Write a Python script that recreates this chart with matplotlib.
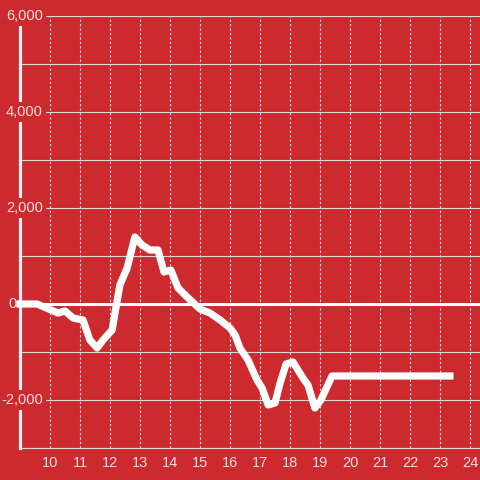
import matplotlib.pyplot as plt
import numpy as np

# hours of the day and running value
hours = [9.0, 9.57, 10.27, 10.5, 10.77, 11.1, 11.33, 11.57, 11.77, 12.07,
         12.33, 12.57, 12.83, 13.07, 13.33, 13.6, 13.8, 14.03, 14.27, 14.57,
         15.0, 15.33, 15.67, 16.0, 16.17, 16.33, 16.6, 16.9, 17.07, 17.27,
         17.5, 17.67, 17.87, 18.1, 18.43, 18.6, 18.83, 19.03, 19.2, 19.4, 23.33]
values = [0, 0, -188, -146, -292, -333, -750, -917, -750, -542,
          396, 750, 1396, 1229, 1125, 1125, 667, 708, 333, 146,
          -104, -188, -333, -500, -646, -917, -1167, -1583, -1750, -2104,
          -2062, -1646, -1250, -1208, -1542, -1688, -2167, -2000, -1771, -1500, -1500]

x_ticks = list(range(10, 25))
y_grid = list(range(-3000, 6001, 1000))
y_labels = [6000, 4000, 2000, 0, -2000]

bg = "#cc2a2f"
label_col = "#f5dede"

fig = plt.figure(figsize=(4.8, 4.8), dpi=100)
fig.patch.set_facecolor(bg)
ax = fig.add_axes([20 / 480, 32 / 480, 460 / 480, 432 / 480])
ax.set_facecolor(bg)

ax.set_xlim(9, 9 + 460 / 30)
ax.set_ylim(-3000, 6000)

ax.set_xticks(x_ticks, [str(i) for i in x_ticks])
ax.set_yticks(y_grid, [""] * len(y_grid))
ax.tick_params(length=0, labelcolor=label_col, labelsize=10.5)
ax.tick_params(axis="x", pad=5.5)
for lab in ax.get_xticklabels():
    lab.set_fontfamily("Liberation Sans")

ax.grid(axis="y", color="#d9d9d9", lw=0.8)
ax.grid(axis="x", color="#eedada", lw=0.8, linestyle=(0, (2, 2)))
ax.set_axisbelow(True)

for s in ["top", "right"]:
    ax.spines[s].set_visible(False)
ax.spines["bottom"].set_color("#d9d9d9")
ax.spines["bottom"].set_linewidth(0.8)
ax.spines["left"].set_color("#f4f4f4")
ax.spines["left"].set_linewidth(2.3)

ax.axhline(0, color="white", lw=2.2, zorder=2)

tr = ax.get_yaxis_transform()
for v in y_labels:
    txt = f"{v:,}"
    if v == 0:
        xpos, ha = -12 / 460, "left"
    else:
        xpos, ha = 23 / 460, "right"
    ax.text(xpos, v, txt, transform=tr, ha=ha, va="center", color=label_col,
            fontsize=10.5, family="Liberation Sans", clip_on=False, zorder=4,
            bbox=dict(facecolor=bg, edgecolor="none", pad=2))

ax.plot(hours, values, color="white", lw=5.2, solid_capstyle="projecting",
        solid_joinstyle="round", clip_on=False, zorder=5)

fig.savefig("out.png", dpi=100, facecolor=bg)
